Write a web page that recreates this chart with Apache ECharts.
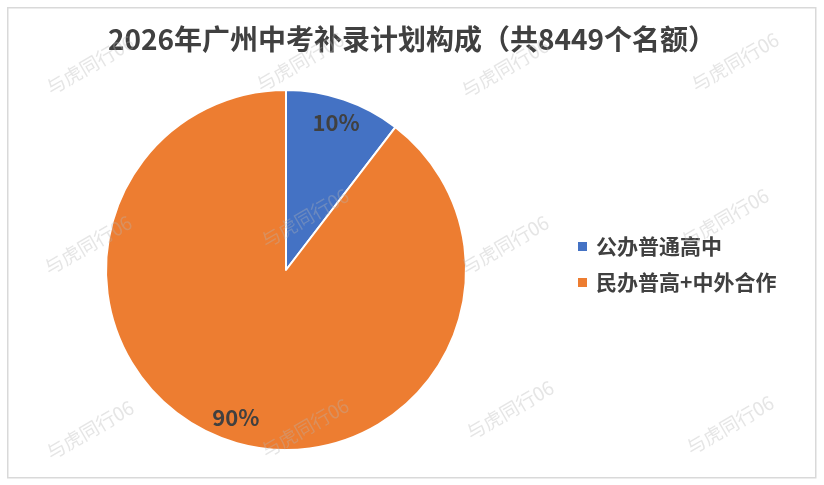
<!DOCTYPE html>
<html>
<head>
<meta charset="utf-8">
<script src="https://cdn.jsdelivr.net/npm/echarts@6/dist/echarts.min.js"></script>
<style>
html,body{margin:0;padding:0;background:#fff;}
#main{width:824px;height:485px;}
</style>
</head>
<body>
<div id="main"></div>
<script>
const titleText = '2026年广州中考补录计划构成（共8449个名额）';
const categories = ['公办普通高中', '民办普高+中外合作'];
const values = [10.4, 89.6];
const colors = ['#4472C4', '#ED7D31'];
const watermarkText = '与虎同行06';
const watermarkSpots = [
  [90, 65], [300, 62], [505, 68], [735, 62],
  [88, 245], [305, 218], [505, 245], [725, 218],
  [90, 430], [305, 428], [510, 410], [730, 425]
];

const chart = echarts.init(document.getElementById('main'), null, {renderer: 'canvas'});
const font = '"Noto Sans CJK SC", "Noto Sans", sans-serif';
const pieData = categories.map((c, i) => ({name: c, value: values[i], itemStyle: {color: colors[i]}}));

const graphics = [{
  type: 'rect', left: 7, top: 7, z: -1,
  shape: {width: 808, height: 470},
  style: {fill: '#fff', stroke: '#d9d9d9', lineWidth: 1.5}
}];
watermarkSpots.forEach(p => {
  graphics.push({
    type: 'text', x: p[0], y: p[1], rotation: Math.PI / 180 * 30, z: 100,
    style: {text: watermarkText, font: '19px ' + font, fill: 'rgba(180,180,180,0.35)', align: 'center', verticalAlign: 'middle'}
  });
});

chart.setOption({
  backgroundColor: '#fff',
  animation: false,
  title: {
    text: titleText, left: 'center', top: 20,
    textStyle: {fontFamily: font, fontSize: 28, fontWeight: 'bold', color: '#404040'}
  },
  legend: {
    orient: 'vertical', left: 571, top: 231,
    itemWidth: 11, itemHeight: 11, itemGap: 15, icon: 'rect',
    data: categories.map((c, i) => ({name: c, itemStyle: {color: colors[i]}})),
    textStyle: {fontFamily: font, fontSize: 21, fontWeight: 'bold', color: '#404040', padding: [0, 0, 0, 3]}
  },
  graphic: graphics,
  series: [{
    type: 'pie', center: [286, 270], radius: [0, 180], startAngle: 90, clockwise: true,
    percentPrecision: 0,
    itemStyle: {borderColor: '#fff', borderWidth: 2},
    label: {show: false}, labelLine: {show: false},
    data: pieData
  }, {
    type: 'pie', center: [286, 270], radius: [126, 180], startAngle: 90, clockwise: true,
    percentPrecision: 0, silent: true,
    itemStyle: {color: 'transparent', borderWidth: 0},
    label: {show: true, position: 'inside', formatter: '{d}%', fontFamily: font, fontSize: 22, fontWeight: 'bold', color: '#404040'},
    labelLine: {show: false},
    data: categories.map((c, i) => ({name: c, value: values[i], itemStyle: {color: 'transparent'}}))
  }]
});
</script>
</body>
</html>
